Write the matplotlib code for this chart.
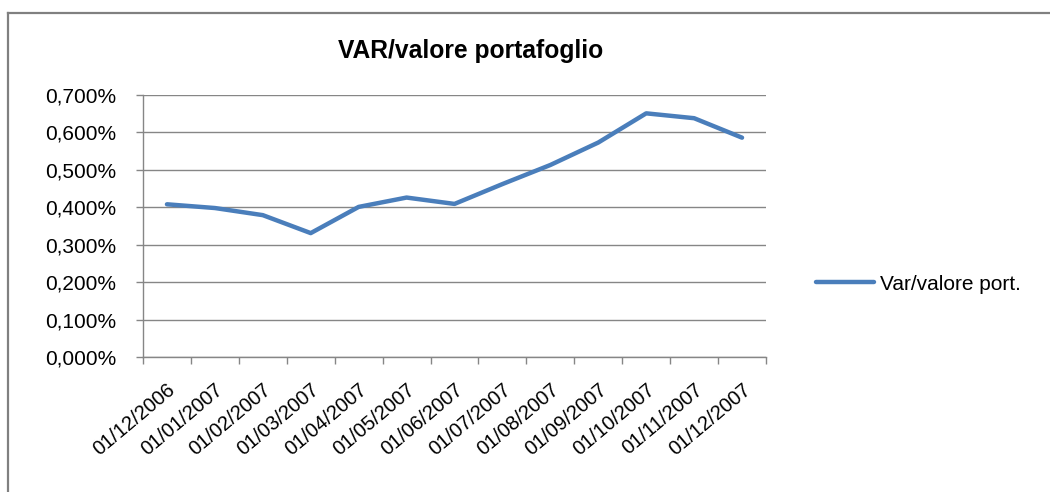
import numpy as np
import matplotlib.pyplot as plt
import matplotlib.transforms as mtransforms
from matplotlib.lines import Line2D
from matplotlib.ticker import FuncFormatter

dates = ["01/12/2006", "01/01/2007", "01/02/2007", "01/03/2007", "01/04/2007",
         "01/05/2007", "01/06/2007", "01/07/2007", "01/08/2007", "01/09/2007",
         "01/10/2007", "01/11/2007", "01/12/2007"]
var_ratio = [0.408, 0.398, 0.379, 0.331, 0.401, 0.426, 0.409, 0.462,
             0.513, 0.573, 0.651, 0.638, 0.586]
yticks = [0.0, 0.1, 0.2, 0.3, 0.4, 0.5, 0.6, 0.7]

plt.rcParams["font.family"] = ["Liberation Sans", "DejaVu Sans"]

W, H = 1050, 492
fig = plt.figure(figsize=(W / 100, H / 100), dpi=100)
ax = fig.add_axes([143 / W, 1 - 357 / H, (766 - 143) / W, (357 - 95) / H])

x = np.arange(len(dates))
ax.plot(x, var_ratio, color="#4a7ebb", lw=3.2, solid_capstyle="round",
        solid_joinstyle="round", label="Var/valore port.", zorder=3)

grid_c = "#868686"
ax.set_xlim(-0.5, len(dates) - 0.5)
ax.set_ylim(0, 0.7)
ax.set_yticks(yticks)
ax.yaxis.set_major_formatter(FuncFormatter(lambda v, p: f"{v:.3f}%".replace(".", ",")))
ax.yaxis.grid(True, color=grid_c, lw=1)
ax.set_axisbelow(True)

ax.set_xticks(np.arange(-0.5, len(dates)), labels=[])
ax.set_xticks(x, minor=True)
ax.set_xticklabels(dates, minor=True, rotation=40, ha="right", va="center",
                   rotation_mode="anchor", fontsize=14.5)
ax.tick_params(axis="x", which="minor", length=0, pad=22)
ax.tick_params(axis="x", which="major", length=5, color=grid_c, width=1)
ax.tick_params(axis="y", length=5, color=grid_c, width=1, labelsize=15, pad=14)

# nudge the date labels a little to the right, like Excel does
shift = mtransforms.ScaledTranslation(6 / 100, 0, fig.dpi_scale_trans)
for lbl in ax.get_xticklabels(minor=True):
    lbl.set_transform(lbl.get_transform() + shift)

for s in ["top", "right"]:
    ax.spines[s].set_visible(False)
for s in ["left", "bottom"]:
    ax.spines[s].set_color(grid_c)
    ax.spines[s].set_linewidth(1)

fig.text(471 / W, 1 - 51 / H, "VAR/valore portafoglio", ha="center", va="center",
         fontsize=17.7, fontweight="bold")

leg = fig.legend(loc="center left", bbox_to_anchor=(797 / W, 1 - 284 / H),
                 frameon=False, fontsize=15, handlelength=2.8, handletextpad=0.3)

# chart frame
fig.add_artist(Line2D([8 / W, 1], [1 - 12.5 / H] * 2, color="#808080", lw=1.6))
fig.add_artist(Line2D([8 / W] * 2, [0, 1 - 12.5 / H], color="#808080", lw=1.6))

fig.savefig("out.png", dpi=100)
